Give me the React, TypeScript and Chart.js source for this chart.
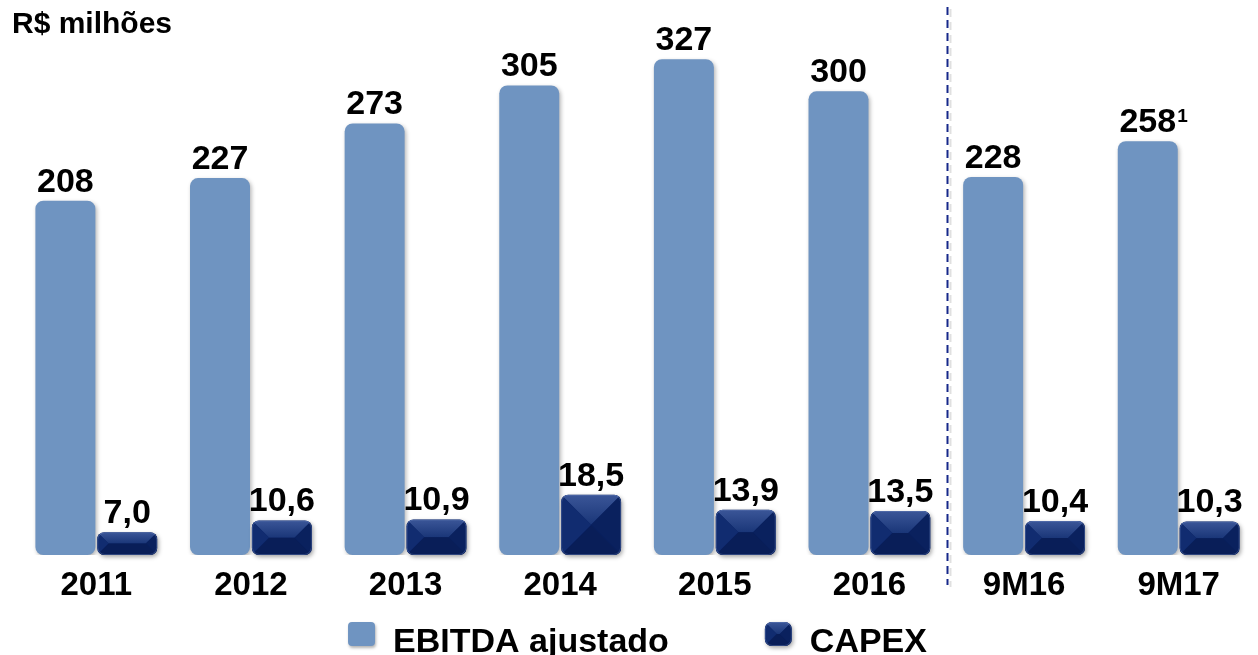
import React, { useEffect, useRef } from 'react';
import { Chart, registerables } from 'chart.js';

Chart.register(...registerables);

const unitTitle = 'R$ milhões';
const categories = ['2011', '2012', '2013', '2014', '2015', '2016', '9M16', '9M17'];
const ebitda = [208, 227, 273, 305, 327, 300, 228, 258];
const ebitdaNotes = ['', '', '', '', '', '', '', '1'];
const capex = [7.0, 10.6, 10.9, 18.5, 13.9, 13.5, 10.4, 10.3];
const seriesNames = ['EBITDA ajustado', 'CAPEX'];
const separatorAfterIndex = 5;

const FONT = '"Liberation Sans", Arial, Helvetica, sans-serif';
const EBITDA_COLOR = '#6f94c1';
const CAPEX_COLOR = '#0c2465';

function roundRectPath(ctx: CanvasRenderingContext2D, x: number, y: number, w: number, h: number, r: number) {
  const rr = Math.max(0, Math.min(r, w / 2, h / 2));
  ctx.beginPath();
  ctx.moveTo(x + rr, y);
  ctx.lineTo(x + w - rr, y);
  ctx.arcTo(x + w, y, x + w, y + rr, rr);
  ctx.lineTo(x + w, y + h - rr);
  ctx.arcTo(x + w, y + h, x + w - rr, y + h, rr);
  ctx.lineTo(x + rr, y + h);
  ctx.arcTo(x, y + h, x, y + h - rr, rr);
  ctx.lineTo(x, y + rr);
  ctx.arcTo(x, y, x + rr, y, rr);
  ctx.closePath();
}

function poly(ctx: CanvasRenderingContext2D, pts: number[][], fill: string | CanvasGradient) {
  ctx.beginPath();
  ctx.moveTo(pts[0][0], pts[0][1]);
  for (let i = 1; i < pts.length; i++) ctx.lineTo(pts[i][0], pts[i][1]);
  ctx.closePath();
  ctx.fillStyle = fill;
  ctx.fill();
}

function drawBevelBar(ctx: CanvasRenderingContext2D, left: number, top: number, right: number, bottom: number) {
  const w = right - left;
  const h = bottom - top;
  const r = Math.min(7, h / 2, w / 2);
  const b = Math.min(w, h) / 2;
  ctx.save();
  ctx.shadowColor = 'rgba(0,0,0,0.35)';
  ctx.shadowBlur = 4;
  ctx.shadowOffsetX = 1.5;
  ctx.shadowOffsetY = 2;
  roundRectPath(ctx, left, top, w, h, r);
  ctx.fillStyle = CAPEX_COLOR;
  ctx.fill();
  ctx.restore();

  ctx.save();
  roundRectPath(ctx, left, top, w, h, r);
  ctx.clip();
  const g = ctx.createLinearGradient(0, top, 0, top + b);
  g.addColorStop(0, '#3b5698');
  g.addColorStop(1, '#1a3678');
  poly(ctx, [[left, top], [right, top], [right - b, top + b], [left + b, top + b]], g);
  poly(ctx, [[left, top], [left + b, top + b], [left + b, bottom - b], [left, bottom]], '#112c70');
  poly(ctx, [[right, top], [right - b, top + b], [right - b, bottom - b], [right, bottom]], '#0a215e');
  poly(ctx, [[left, bottom], [left + b, bottom - b], [right - b, bottom - b], [right, bottom]], '#091e58');
  if (w - 2 * b > 0 && h - 2 * b > 0) {
    ctx.fillStyle = CAPEX_COLOR;
    ctx.fillRect(left + b, top + b, w - 2 * b, h - 2 * b);
  }
  roundRectPath(ctx, left + 0.5, top + 0.5, w - 1, h - 1, r);
  ctx.strokeStyle = 'rgba(120,145,200,0.35)';
  ctx.lineWidth = 1;
  ctx.stroke();
  ctx.restore();
}

const decorPlugin = {
  id: 'decor',
  beforeDatasetsDraw(chart: any) {
    const ctx = chart.ctx;
    ctx.save();
    ctx.shadowColor = 'rgba(0,0,0,0.3)';
    ctx.shadowBlur = 4;
    ctx.shadowOffsetX = 1.5;
    ctx.shadowOffsetY = 2;
  },
  afterDatasetsDraw(chart: any) {
    const ctx: CanvasRenderingContext2D = chart.ctx;
    ctx.restore();
    const xs = chart.scales.x;
    const area = chart.chartArea;

    // separator line
    const sx = Math.round((xs.getPixelForValue(separatorAfterIndex) + xs.getPixelForValue(separatorAfterIndex + 1)) / 2) + 0.5;
    ctx.save();
    ctx.setLineDash([8, 5]);
    ctx.lineWidth = 2;
    ctx.strokeStyle = 'rgba(0,0,0,0.12)';
    ctx.beginPath();
    ctx.moveTo(sx + 3, 9);
    ctx.lineTo(sx + 3, area.bottom + 32);
    ctx.stroke();
    ctx.strokeStyle = '#16288a';
    ctx.beginPath();
    ctx.moveTo(sx, 7);
    ctx.lineTo(sx, area.bottom + 30);
    ctx.stroke();
    ctx.restore();

    // CAPEX bars
    const capMeta = chart.getDatasetMeta(1);
    capMeta.data.forEach((el: any) => {
      const left = el.x - el.width / 2;
      const right = el.x + el.width / 2;
      drawBevelBar(ctx, left, Math.min(el.y, el.base), right, Math.max(el.y, el.base));
    });

    ctx.save();
    ctx.fillStyle = '#000';
    ctx.textAlign = 'center';
    ctx.textBaseline = 'alphabetic';
    ctx.font = `bold 34px ${FONT}`;
    // EBITDA labels
    const ebMeta = chart.getDatasetMeta(0);
    ebMeta.data.forEach((el: any, i: number) => {
      const txt = String(ebitda[i]);
      const y = el.y - 9;
      ctx.font = `bold 34px ${FONT}`;
      ctx.textAlign = 'center';
      ctx.fillText(txt, el.x, y);
      if (ebitdaNotes[i]) {
        const tw = ctx.measureText(txt).width;
        ctx.font = `bold 19px ${FONT}`;
        ctx.textAlign = 'left';
        ctx.fillText(ebitdaNotes[i], el.x + tw / 2 + 1, y - 10);
      }
    });
    // CAPEX labels
    ctx.font = `bold 34px ${FONT}`;
    ctx.textAlign = 'center';
    capMeta.data.forEach((el: any, i: number) => {
      const txt = capex[i].toFixed(1).replace('.', ',');
      ctx.fillText(txt, el.x, el.y - 9);
    });
    // category labels
    ctx.font = `bold 33px ${FONT}`;
    categories.forEach((c, i) => {
      ctx.fillText(c, xs.getPixelForValue(i), area.bottom + 40);
    });

    // title
    ctx.textAlign = 'left';
    ctx.font = `bold 30px ${FONT}`;
    ctx.fillText(unitTitle, 12, 33);

    // legend
    ctx.font = `bold 34px ${FONT}`;
    const boxW = 27, boxH = 24, gap = 18, spacing = 96;
    const w1 = ctx.measureText(seriesNames[0]).width;
    const w2 = ctx.measureText(seriesNames[1]).width;
    const total = boxW + gap + w1 + spacing + boxW + gap + w2;
    let lx = (area.left + area.right) / 2 - total / 2;
    const boxTop = 622;
    const textBase = 652;
    ctx.save();
    ctx.shadowColor = 'rgba(0,0,0,0.3)';
    ctx.shadowBlur = 3;
    ctx.shadowOffsetX = 1;
    ctx.shadowOffsetY = 2;
    roundRectPath(ctx, lx, boxTop, boxW, boxH, 4);
    ctx.fillStyle = EBITDA_COLOR;
    ctx.fill();
    ctx.restore();
    ctx.fillStyle = '#000';
    ctx.fillText(seriesNames[0], lx + boxW + gap, textBase);
    lx += boxW + gap + w1 + spacing;
    drawBevelBar(ctx, lx, boxTop, lx + boxW, boxTop + boxH);
    ctx.fillStyle = '#000';
    ctx.font = `bold 34px ${FONT}`;
    ctx.fillText(seriesNames[1], lx + boxW + gap, textBase);
    ctx.restore();
  },
};

export default function App() {
  const canvasRef = useRef<HTMLCanvasElement | null>(null);

  useEffect(() => {
    if (!canvasRef.current) return;
    const chart = new Chart(canvasRef.current, {
      type: 'bar',
      data: {
        labels: categories,
        datasets: [
          {
            label: seriesNames[0],
            data: ebitda,
            backgroundColor: EBITDA_COLOR,
            borderRadius: 8,
            borderSkipped: false,
            base: -90,
            yAxisID: 'y',
            categoryPercentage: 0.8,
            barPercentage: 0.97,
          } as any,
          {
            label: seriesNames[1],
            data: capex,
            backgroundColor: 'rgba(0,0,0,0)',
            yAxisID: 'y2',
            categoryPercentage: 0.8,
            barPercentage: 0.97,
          },
        ],
      },
      options: {
        responsive: false,
        animation: false,
        layout: { padding: { left: 19, right: 2, top: 20, bottom: 100 } },
        plugins: {
          legend: { display: false },
          tooltip: { enabled: false },
          title: { display: false },
        },
        scales: {
          x: { display: false, offset: true, grid: { display: false } },
          y: { display: false, min: -90, max: 360 },
          y2: { display: false, min: 0, max: 164, position: 'right' },
        },
      },
      plugins: [decorPlugin],
    });
    return () => chart.destroy();
  }, []);

  return (
    <div style={{ position: 'absolute', left: 0, top: 0, width: 1258, height: 655, background: '#fff' }}>
      <canvas ref={canvasRef} width={1258} height={655} />
    </div>
  );
}
